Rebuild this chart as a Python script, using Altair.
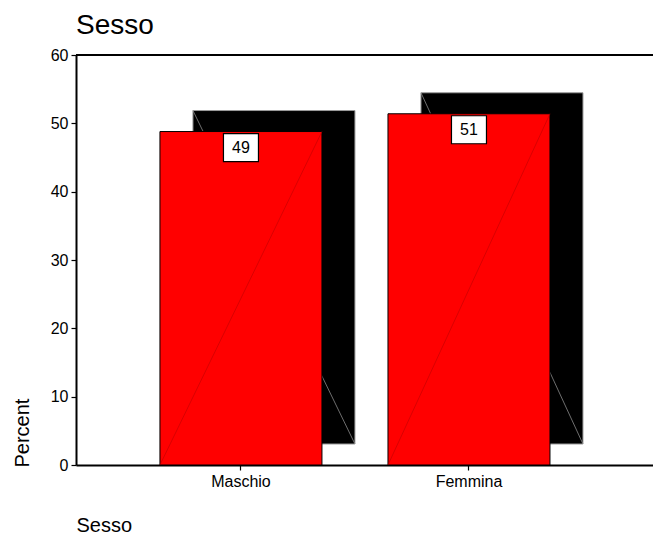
import altair as alt
import pandas as pd

categories = ["Maschio", "Femmina"]
percents = [48.8, 51.4]
labels = ["49", "51"]

df = pd.DataFrame({"cat": categories, "pct": percents, "label": labels})

FONT = "Liberation Sans"
W, H = 577, 410

xscale = alt.Scale(domain=categories, paddingInner=0.2895, paddingOuter=0.41, align=0.449)
yscale = alt.Scale(domain=[0, 60], nice=False, zero=True)

x_axis = alt.Axis(
    title="Sesso", labelAngle=0, labelFont=FONT, labelFontSize=16, labelColor="black",
    labelPadding=3, tickSize=5, tickColor="black", tickWidth=1.2,
    domainColor="black", domainWidth=2, grid=False,
    titleFont=FONT, titleFontSize=20, titleFontWeight="normal", titleColor="black",
    titleX=0, titleY=66, titleAlign="left", titleBaseline="alphabetic",
)
y_axis = alt.Axis(
    title="Percent", values=[0, 10, 20, 30, 40, 50, 60], labelFont=FONT, labelFontSize=16,
    labelColor="black", labelPadding=3, tickSize=5, tickColor="black", tickWidth=1.2,
    domainColor="black", domainWidth=2, grid=False,
    titleFont=FONT, titleFontSize=20, titleFontWeight="normal", titleColor="black",
    titleAngle=270, titleX=-48, titleY=412, titleAlign="left", titleBaseline="alphabetic",
)


def xenc(**kw):
    return alt.X("cat:N", scale=xscale, sort=categories, axis=x_axis, **kw)


def yenc(field="pct:Q"):
    return alt.Y(field, scale=yscale, axis=y_axis)


base = alt.Chart(df)

shadow = base.mark_bar(
    color="black", stroke="#9a9a9a", strokeWidth=1,
    xOffset=33, x2Offset=33, yOffset=-21, y2Offset=-21,
).encode(x=xenc(), y=yenc(), y2=alt.datum(0))

shadow_diag = base.mark_rule(
    color="#8a8a8a", strokeWidth=0.8,
    xOffset=33, x2Offset=33, yOffset=-21, y2Offset=-21,
).encode(
    x=xenc(bandPosition=0),
    x2=alt.X2("cat", bandPosition=1),
    y=yenc(),
    y2=alt.datum(0),
)

bars = base.mark_bar(color="#ff0000", stroke="black", strokeWidth=1).encode(
    x=xenc(), y=yenc(), y2=alt.datum(0)
)

red_diag = base.mark_rule(color="#c00000", strokeWidth=0.6).encode(
    x=xenc(bandPosition=1),
    x2=alt.X2("cat", bandPosition=0),
    y=yenc(),
    y2=alt.datum(0),
)

box = base.mark_bar(
    fill="white", stroke="black", strokeWidth=1.2, width=35, yOffset=2, y2Offset=30
).encode(x=xenc(), y=yenc(), y2=alt.Y2("pct"))

text = base.mark_text(
    font=FONT, fontSize=16, baseline="middle", align="center", color="black", yOffset=16
).encode(x=xenc(), y=yenc(), text="label:N")

top_line = alt.Chart(pd.DataFrame({"t": [60]})).mark_rule(color="black", strokeWidth=2).encode(
    y=yenc("t:Q")
)

chart = alt.layer(shadow, shadow_diag, bars, red_diag, box, text, top_line).properties(
    width=W,
    height=H,
    title=alt.TitleParams(
        "Sesso", anchor="start", frame="group", font=FONT, fontSize=28,
        fontWeight="normal", color="black", offset=-15, baseline="alphabetic",
    ),
    padding={"left": 68, "top": 47, "right": 0, "bottom": 71},
    autosize=alt.AutoSizeParams(type="none"),
).configure_view(stroke=None).configure(background="white")

chart.save("out.html", embed_options={"renderer": "svg", "actions": False})
